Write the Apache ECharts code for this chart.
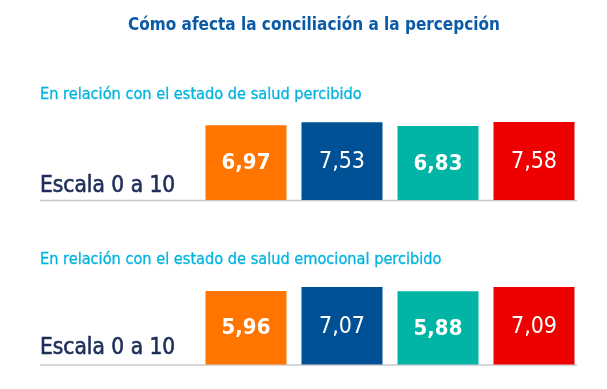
<!DOCTYPE html>
<html><head><meta charset="utf-8">
<script src="https://cdn.jsdelivr.net/npm/echarts@6/dist/echarts.min.js"></script>
<style>html,body{margin:0;padding:0;background:#fff}#c{width:607px;height:389px}</style>
</head><body><div id="c"></div>
<script>
const title = 'Cómo afecta la conciliación a la percepción';
const subtitles = ['En relación con el estado de salud percibido', 'En relación con el estado de salud emocional percibido'];
const scaleLabel = 'Escala 0 a 10';
const categories = ['A', 'B', 'C', 'D'];
const saludPercibido = [6.97, 7.53, 6.83, 7.58];
const saludEmocional = [5.96, 7.07, 5.88, 7.09];
const colors = ['#ff7500', '#005096', '#00b5a5', '#ee0000'];
const boldFlags = [true, false, true, false];

const FONT = '"DejaVu Sans Condensed", "DejaVu Sans", sans-serif';
const chart = echarts.init(document.getElementById('c'), null, {renderer: 'canvas'});

function fmt(v) { return v.toFixed(2).replace('.', ','); }

function series(idx, arr) {
  return {
    type: 'custom', xAxisIndex: idx, yAxisIndex: idx, silent: true,
    data: arr.map((v, i) => [i, v]),
    renderItem: function (params, api) {
      const i = api.value(0);
      const v = api.value(1);
      const cs = params.coordSys;
      const bottom = cs.y + cs.height;
      const topPt = api.coord([i, v]);
      const w = 81;
      const h = bottom - topPt[1];
      const x = topPt[0] - w / 2;
      return {
        type: 'group',
        children: [
          {type: 'rect', shape: {x: x, y: topPt[1], width: w, height: h},
            style: {fill: colors[i]}},
          {type: 'text', x: topPt[0], y: topPt[1] + h / 2 + 1,
            style: {text: fmt(v), fill: '#fff', align: 'center', verticalAlign: 'middle',
              font: (boldFlags[i] ? 'bold 22px ' : '23px ') + FONT}}
        ]
      };
    }
  };
}
const subStyle = {color: '#00b4e0', fontSize: 16.2, fontWeight: 'normal', fontFamily: FONT,
  textBorderColor: '#00b4e0', textBorderWidth: 0.3};
const scaleStyle = {color: '#1e2d5a', fontSize: 22.5, fontWeight: 'normal', fontFamily: FONT,
  textBorderColor: '#1e2d5a', textBorderWidth: 0.6};
chart.setOption({
  animation: false,
  title: [
    {text: title, left: 309, textAlign: 'center', top: 12,
      textStyle: {color: '#0a5aa8', fontSize: 17, fontWeight: 'bold', fontFamily: FONT}},
    {text: subtitles[0], left: 35, top: 82, textStyle: subStyle},
    {text: subtitles[1], left: 35, top: 246.5, textStyle: subStyle},
    {text: scaleLabel, left: 35, top: 169.5, textStyle: scaleStyle},
    {text: scaleLabel, left: 35, top: 332, textStyle: scaleStyle}
  ],
  grid: [
    {left: 198, width: 384, top: 109, height: 91},
    {left: 198, width: 384, top: 276.8, height: 87.7}
  ],
  xAxis: [
    {type: 'category', gridIndex: 0, data: categories, show: false},
    {type: 'category', gridIndex: 1, data: categories, show: false}
  ],
  yAxis: [
    {type: 'value', gridIndex: 0, min: -7, max: 10, show: false},
    {type: 'value', gridIndex: 1, min: -15, max: 10, show: false}
  ],
  graphic: [
    {type: 'line', shape: {x1: 40, y1: 200.5, x2: 577, y2: 200.5}, style: {stroke: '#c8c8c8', lineWidth: 1.5}, z: 0},
    {type: 'line', shape: {x1: 40, y1: 365, x2: 577, y2: 365}, style: {stroke: '#c8c8c8', lineWidth: 1.5}, z: 0}
  ],
  series: [series(0, saludPercibido), series(1, saludEmocional)]
});
</script></body></html>
